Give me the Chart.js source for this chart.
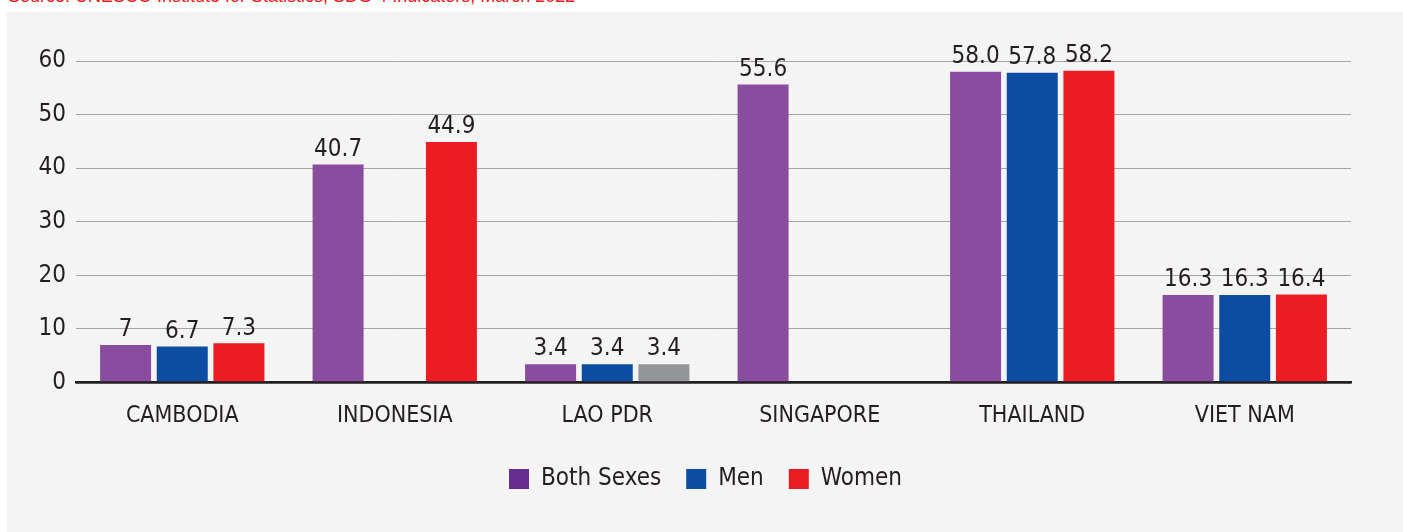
<!DOCTYPE html>
<html>
<head>
<meta charset="utf-8">
<script src="https://cdn.jsdelivr.net/npm/chart.js@4"></script>
<style>
  html, body { margin: 0; padding: 0; background: #fff; }
  #wrap { position: relative; width: 1403px; height: 532px; overflow: hidden; }
  #panel { position: absolute; left: 7px; top: 12px; right: 0; bottom: 0; background: #f4f4f4; }
  #source { position: absolute; left: 8px; top: -13px; font: 18px "Liberation Sans", Arial, sans-serif; color: #ed1c24; white-space: nowrap; line-height: 18px; }
  canvas { position: absolute; left: 0; top: 0; }
</style>
</head>
<body>
<div id="wrap">
  <div id="panel"></div>
  <div id="source">Source: UNESCO Institute for Statistics, SDG 4 Indicators, March 2022</div>
  <canvas id="chart" width="1403" height="532"></canvas>
</div>
<script>
// Verdier som trykt i kilden (strenger, så "7" og "58.0" vises som i originalen)
const countries = ["CAMBODIA", "INDONESIA", "LAO PDR", "SINGAPORE", "THAILAND", "VIET NAM"];
const bothSexes = ["7", "40.7", "3.4", "55.6", "58.0", "16.3"];
const men = ["6.7", null, "3.4", null, "57.8", "16.3"];
const women = ["7.3", "44.9", "3.4", null, "58.2", "16.4"];
const yTicks = [0, 10, 20, 30, 40, 50, 60];

const FONT = "'Liberation Sans Narrow', 'DejaVu Sans Condensed', 'Roboto Condensed', sans-serif";
const INK = "#231f20";
const PURPLE = "#8a4c9e", BLUE = "#0c4da2", RED = "#ed1c24", GREY = "#939598";
const LEGEND_COLORS = ["#662d91", BLUE, RED];

// Lao PDR kvinner er grå i originalen
const womenColor = (ctx) => (ctx.dataIndex !== undefined && countries[ctx.dataIndex] === "LAO PDR" ? GREY : RED);

const valueLabels = {
  id: "valueLabels",
  afterDatasetsDraw(chart) {
    const { ctx } = chart;
    ctx.save();
    ctx.font = `24px ${FONT}`;
    ctx.fillStyle = INK;
    ctx.textAlign = "center";
    ctx.textBaseline = "bottom";
    chart.data.datasets.forEach((ds, i) => {
      chart.getDatasetMeta(i).data.forEach((el, j) => {
        const v = ds.data[j];
        if (v == null) return;
        ctx.fillText(v, el.x, el.y - 3);
      });
    });
    ctx.restore();
  },
};

// legenden står litt til høyre for midten i originalen
const legendShift = {
  id: "legendShift",
  afterLayout(chart) { chart.legend.left += 30; chart.legend.right += 30; },
};

new Chart(document.getElementById("chart"), {
  type: "bar",
  data: {
    labels: countries,
    datasets: [
      { label: "Both Sexes", data: bothSexes, backgroundColor: PURPLE },
      { label: "Men", data: men, backgroundColor: BLUE },
      { label: "Women", data: women, backgroundColor: womenColor },
    ],
  },
  options: {
    responsive: false, animation: false, devicePixelRatio: 1,
    layout: { padding: { top: 61, right: 52, left: 0, bottom: 31 } },
    scales: {
      y: {
        min: 0, max: 60,
        afterBuildTicks: (s) => { s.ticks = yTicks.map((v) => ({ value: v })); },
        afterFit: (s) => { s.width = 76; },
        ticks: { font: { family: FONT, size: 24 }, color: INK, padding: 10 },
        grid: {
          drawTicks: false,
          color: (c) => (c.tick && c.tick.value === 0 ? INK : "#a5a5a5"),
          lineWidth: (c) => (c.tick && c.tick.value === 0 ? 2.5 : 1),
        },
        border: { display: false },
      },
      x: {
        grid: { display: false },
        border: { color: INK, width: 2.5 },
        ticks: { font: { family: FONT, size: 23 }, color: INK, padding: 12 },
      },
    },
    plugins: {
      tooltip: { enabled: false },
      legend: {
        position: "bottom",
        labels: {
          boxWidth: 20, boxHeight: 20, padding: 25,
          font: { family: FONT, size: 24 }, color: INK,
          generateLabels(chart) {
            const items = Chart.defaults.plugins.legend.labels.generateLabels(chart);
            items.forEach((it, i) => { it.fillStyle = LEGEND_COLORS[i]; it.strokeStyle = LEGEND_COLORS[i]; it.lineWidth = 0; });
            return items;
          },
        },
      },
    },
  },
  plugins: [valueLabels, legendShift],
});
</script>
</body>
</html>
